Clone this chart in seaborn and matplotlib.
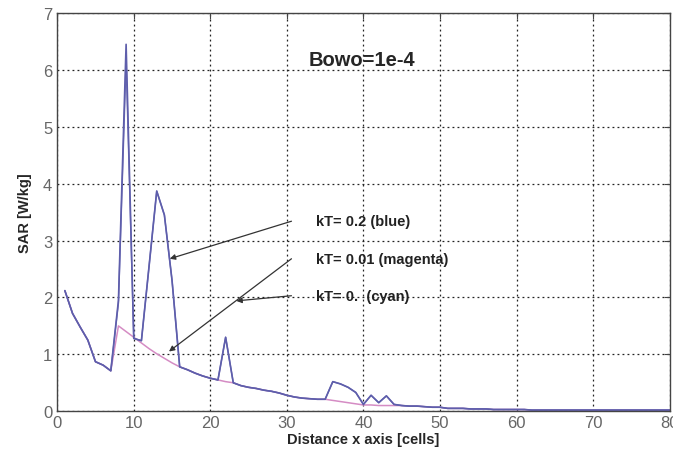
"""SAR along the x axis for three kT values (Bowo=1e-4)."""

import matplotlib
matplotlib.use("Agg")
import matplotlib.pyplot as plt
import numpy as np
import pandas as pd
import seaborn as sns

# cell index along x
cells = np.arange(1, 81)

sar_kt_02 = [
    2.12, 1.72, 1.48, 1.25, 0.87, 0.81, 0.71, 1.95, 6.45, 1.28,
    1.24, 2.55, 3.87, 3.45, 2.30, 0.78, 0.73, 0.67, 0.62, 0.58,
    0.55, 1.30, 0.50, 0.45, 0.42, 0.40, 0.37, 0.35, 0.32, 0.28,
    0.25, 0.23, 0.22, 0.21, 0.21, 0.52, 0.48, 0.42, 0.33, 0.12,
    0.28, 0.15, 0.27, 0.12, 0.10, 0.09, 0.09, 0.08, 0.07, 0.07,
    0.05, 0.05, 0.05, 0.04, 0.04, 0.04, 0.03, 0.03, 0.03, 0.03,
    0.03, 0.02, 0.02, 0.02, 0.02, 0.02, 0.02, 0.02, 0.02, 0.02,
    0.02, 0.02, 0.02, 0.02, 0.02, 0.02, 0.02, 0.02, 0.02, 0.02,
]

sar_kt_001 = [
    2.12, 1.72, 1.48, 1.25, 0.87, 0.81, 0.71, 1.50, 1.40, 1.30,
    1.20, 1.10, 1.01, 0.93, 0.85, 0.78, 0.73, 0.67, 0.62, 0.58,
    0.55, 0.52, 0.50, 0.45, 0.42, 0.40, 0.37, 0.35, 0.32, 0.28,
    0.25, 0.23, 0.22, 0.21, 0.21, 0.19, 0.17, 0.15, 0.13, 0.11,
    0.11, 0.10, 0.10, 0.10, 0.10, 0.09, 0.09, 0.08, 0.07, 0.07,
    0.05, 0.05, 0.05, 0.04, 0.04, 0.04, 0.03, 0.03, 0.03, 0.03,
    0.03, 0.02, 0.02, 0.02, 0.02, 0.02, 0.02, 0.02, 0.02, 0.02,
    0.02, 0.02, 0.02, 0.02, 0.02, 0.02, 0.02, 0.02, 0.02, 0.02,
]

sar_kt_0 = [
    2.12, 1.72, 1.48, 1.25, 0.87, 0.81, 0.71, 1.90, 6.15, 1.28,
    1.24, 2.55, 3.87, 3.45, 2.30, 0.78, 0.73, 0.67, 0.62, 0.58,
    0.55, 1.30, 0.50, 0.45, 0.42, 0.40, 0.37, 0.35, 0.32, 0.28,
    0.25, 0.23, 0.22, 0.21, 0.21, 0.52, 0.48, 0.42, 0.33, 0.12,
    0.28, 0.15, 0.27, 0.12, 0.10, 0.09, 0.09, 0.08, 0.07, 0.07,
    0.05, 0.05, 0.05, 0.04, 0.04, 0.04, 0.03, 0.03, 0.03, 0.03,
    0.03, 0.02, 0.02, 0.02, 0.02, 0.02, 0.02, 0.02, 0.02, 0.02,
    0.02, 0.02, 0.02, 0.02, 0.02, 0.02, 0.02, 0.02, 0.02, 0.02,
]

x_ticks = [0, 10, 20, 30, 40, 50, 60, 70, 80]
y_ticks = [0, 1, 2, 3, 4, 5, 6, 7]

BLUE = "#5e5eab"
PINK = "#d58cc4"
CYAN_DRAWN = "#7070b8"

sns.set_style("white")
plt.rcParams["font.family"] = ["Liberation Sans", "DejaVu Sans"]

df = pd.DataFrame({
    "x": cells,
    "kt_0": sar_kt_0,
    "kt_001": sar_kt_001,
    "kt_02": sar_kt_02,
})

fig = plt.figure(figsize=(6.73, 4.52), dpi=100)
ax = fig.add_axes([0.085, 0.088, 0.91, 0.881])

sns.lineplot(data=df, x="x", y="kt_001", ax=ax, color=PINK, linewidth=1.1)
sns.lineplot(data=df, x="x", y="kt_0", ax=ax, color=CYAN_DRAWN, linewidth=1.0)
sns.lineplot(data=df, x="x", y="kt_02", ax=ax, color=BLUE, linewidth=1.2)

ax.set_xlim(0, 80)
ax.set_ylim(0, 7)
ax.set_xticks(x_ticks)
ax.set_yticks(y_ticks)
ax.grid(True, color="#222222", linestyle=(0, (1.5, 2.5)), linewidth=0.9)
ax.set_axisbelow(True)
for s in ax.spines.values():
    s.set_color("#444444")
    s.set_linewidth(1.0)
ax.tick_params(direction="in", length=4, colors="#444444", labelcolor="#666666",
               labelsize=12, top=True, right=True)
ax.tick_params(axis="x", pad=3)

ax.set_xlabel("Distance x axis [cells]", fontsize=10.5, fontweight="bold", labelpad=1)
ax.set_ylabel("SAR [W/kg]", fontsize=10.5, fontweight="bold", labelpad=8)

ax.text(32.8, 6.19, "Bowo=1e-4", fontsize=14.5, fontweight="bold", va="center")

labels = ["kT= 0.2 (blue)", "kT= 0.01 (magenta)", "kT= 0.  (cyan)"]
label_y = [3.34, 2.68, 2.03]
arrow_tips = [(14.7, 2.68), (14.6, 1.05), (23.4, 1.94)]
for txt, ly, tip in zip(labels, label_y, arrow_tips):
    ax.text(33.8, ly, txt, fontsize=10.5, fontweight="bold", va="center", color="#222222")
    ax.annotate("", xy=tip, xytext=(30.6, ly),
                arrowprops=dict(arrowstyle="-|>", color="#333333", lw=0.9,
                                mutation_scale=8, shrinkA=0, shrinkB=0))

fig.savefig("out.png", dpi=100)
